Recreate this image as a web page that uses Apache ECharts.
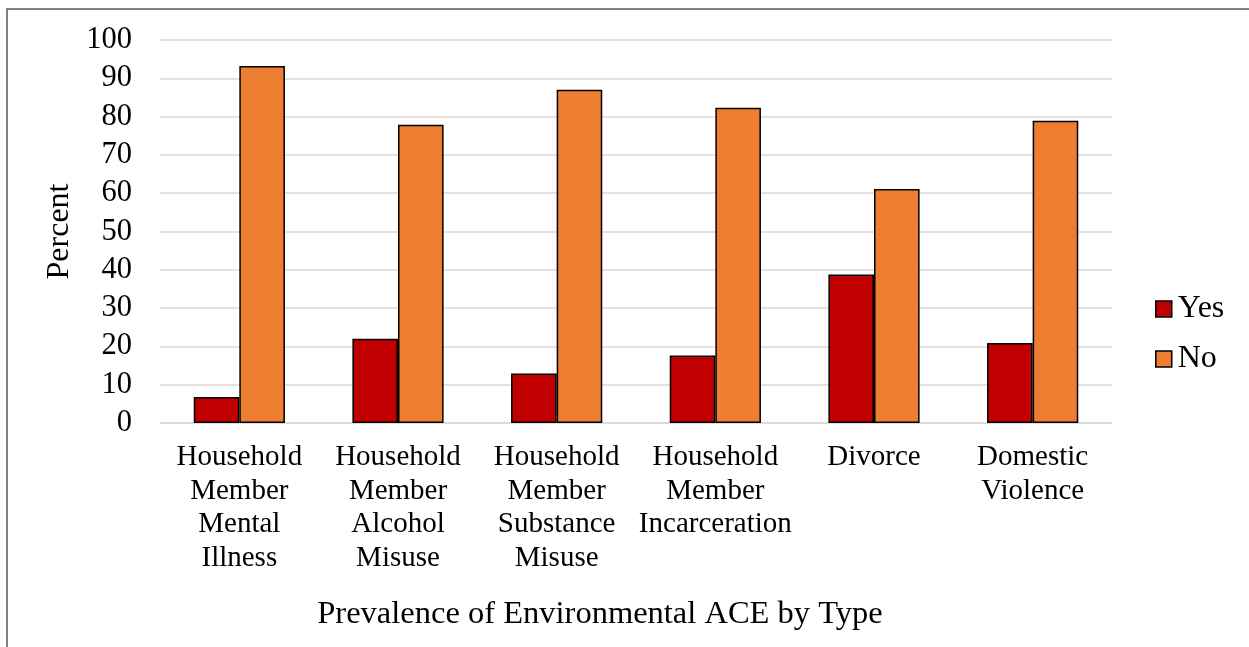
<!DOCTYPE html>
<html>
<head>
<meta charset="utf-8">
<script src="https://cdn.jsdelivr.net/npm/echarts@6/dist/echarts.min.js"></script>
<style>html,body{margin:0;padding:0;background:#fff}#c{width:1249px;height:647px}</style>
</head>
<body>
<div id="c"></div>
<script>
const categories = ['Household\nMember\nMental\nIllness', 'Household\nMember\nAlcohol\nMisuse', 'Household\nMember\nSubstance\nMisuse', 'Household\nMember\nIncarceration', 'Divorce', 'Domestic\nViolence'];
const yesValues = [6.8, 22.0, 12.9, 17.6, 38.8, 20.9];
const noValues = [93.2, 77.9, 87.0, 82.3, 61.1, 78.9];
const seriesNames = ['Yes', 'No'];
const titleText = 'Prevalence of Environmental ACE by Type';
const yAxisName = 'Percent';

const FONT = '"Liberation Serif", "Times New Roman", serif';
const chart = echarts.init(document.getElementById('c'), null, {renderer: 'canvas'});
chart.setOption({
  backgroundColor: '#fff',
  animation: false,
  textStyle: {fontFamily: FONT, color: '#000'},
  grid: {left: 160, top: 40, right: 137, bottom: 224, containLabel: false},
  legend: {
    orient: 'vertical',
    left: 1155, top: 293, padding: 0,
    itemWidth: 16, itemHeight: 16, itemGap: 18,
    textStyle: {fontFamily: FONT, fontSize: 32, color: '#000', padding: [0,0,0,1]},
    data: seriesNames.map(n => ({name: n, icon: 'rect', itemStyle: {borderColor: '#000', borderWidth: 1.5}}))
  },
  xAxis: {
    type: 'category',
    data: categories,
    axisLine: {lineStyle: {color: '#d9d9d9', width: 1.5}},
    axisTick: {show: false},
    axisLabel: {fontFamily: FONT, fontSize: 29, color: '#000', lineHeight: 33.5, margin: 18, interval: 0}
  },
  yAxis: {
    type: 'value', min: 0, max: 100, interval: 10,
    name: yAxisName, nameLocation: 'middle', nameGap: 80,
    nameTextStyle: {fontFamily: FONT, fontSize: 32, color: '#000'},
    axisLine: {show: false}, axisTick: {show: false},
    axisLabel: {fontFamily: FONT, fontSize: 30.5, color: '#000', margin: 28},
    splitLine: {lineStyle: {color: '#d9d9d9', width: 1.5}}
  },
  series: [
    {name: seriesNames[0], type: 'bar', data: yesValues, barWidth: 45.6, barGap: '0%',
     itemStyle: {color: '#C00000', borderColor: '#000', borderWidth: 1.5}},
    {name: seriesNames[1], type: 'bar', data: noValues, barWidth: 45.6, barGap: '0%',
     itemStyle: {color: '#ED7D31', borderColor: '#000', borderWidth: 1.5}}
  ],
  graphic: [
    {type: 'rect', shape: {x: 7, y: 9, width: 1300, height: 700}, style: {fill: 'none', stroke: '#595959', lineWidth: 1.5}, silent: true},
    {type: 'text', x: 600, y: 614, style: {text: titleText, fontFamily: FONT, fontSize: 32.5, fill: '#000', align: 'center', verticalAlign: 'middle'}}
  ]
});
</script>
</body>
</html>
